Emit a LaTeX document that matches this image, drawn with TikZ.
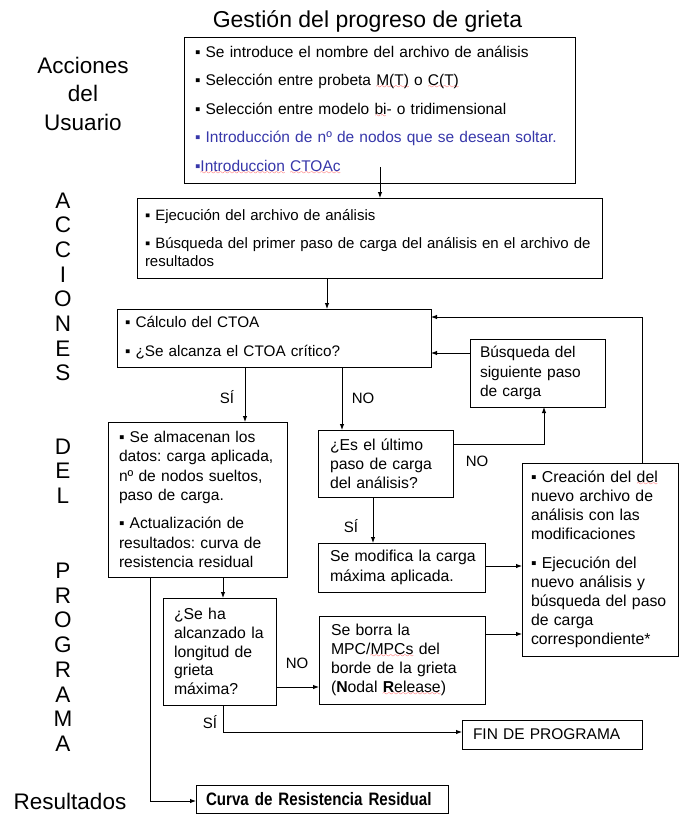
\documentclass[tikz,border=0pt]{standalone}
\usepackage{fontspec}
\setmainfont{Liberation Sans}
\newfontfamily\narrowfont[FakeStretch=0.84]{Liberation Sans}
\usetikzlibrary{arrows.meta}
\definecolor{blu}{RGB}{55,55,170}
\font\squigfont=lasy10 at 7pt
\newcommand\sq[1]{\setbox0\hbox{#1}\rlap{\textcolor{red}{\lower2.6pt\hbox to \wd0{\xleaders\hbox{\squigfont\char58}\hfil}}}\box0\relax}
\frenchspacing
\begin{document}
\begin{tikzpicture}[x=1pt,y=-1pt,
  box/.style={draw, line width=1pt, anchor=north west, align=left, inner ysep=0pt, outer sep=0pt},
  arr/.style={line width=0.9pt, -{Latex[length=6pt,width=4.5pt]}},
  lab/.style={font=\fontsize{15}{18}\selectfont, anchor=base, inner sep=0pt},
  side/.style={font=\fontsize{22.5}{27}\selectfont, anchor=base, inner sep=0pt}]
\useasboundingbox (0,0) rectangle (687,814);
\fill[white] (0,0) rectangle (687,814);

% title and side labels
\node[font=\fontsize{23}{27}\selectfont, anchor=base, inner sep=0pt] (title) at (367.5,27) {Gestión del progreso de grieta};
\node[side] (acc1) at (83,73) {Acciones};
\node[side] (acc2) at (83,101.5) {del};
\node[side] (acc3) at (83,130) {Usuario};
\foreach \ch/\yy [count=\i] in {A/200,C/224.7,C/249.4,I/274.1,O/298.8,N/323.5,E/348.2,S/372.9,
  D/446,E/470.5,L/495,P/570.5,R/595.2,O/619.9,G/644.6,R/669.3,A/694,M/718.7,A/743.4}
  {\node[side] (v\i) at (63,\yy+8) {\ch};}
\node[side] (res) at (70,809) {Resultados};

% boxes
\node[box, minimum width=391pt, minimum height=146pt, text width=369pt, inner xsep=11pt,
  font=\fontsize{15.5}{28.5}\selectfont] (b1) at (184,37)
  {\mbox{▪ Se introduce el nombre del archivo de análisis}\\
   \mbox{▪ Selección entre probeta \sq{M(T)} o \sq{C(T)}}\\
   \mbox{▪ Selección entre modelo \sq{bi}- o tridimensional}\\
   \mbox{\color{blu}▪ Introducción de nº de nodos que se desean soltar.}\\
   \mbox{\color{blu}▪\sq{Introduccion} \sq{CTOAc}}};

\node[box, minimum width=465pt, minimum height=80pt, text width=449pt, inner xsep=8pt,
  font=\fontsize{15}{18}\selectfont] (b2) at (137,198)
  {\mbox{▪ Ejecución del archivo de análisis}\\[10pt]
   \mbox{▪ Búsqueda del primer paso de carga del análisis en el archivo de}\\
   \mbox{resultados}};

\node[box, minimum width=314pt, minimum height=58pt, text width=298pt, inner xsep=8pt,
  font=\fontsize{15.3}{29}\selectfont] (b3) at (117,309)
  {\mbox{▪ Cálculo del CTOA}\\
   \mbox{▪ ¿Se alcanza el CTOA crítico?}};

\node[box, minimum width=135pt, minimum height=68pt, text width=115pt, inner xsep=10pt,
  font=\fontsize{15.5}{19.5}\selectfont] (b9) at (470,339)
  {\mbox{Búsqueda del}\\ \mbox{siguiente paso}\\ \mbox{de carga}};

\node[box, minimum width=179pt, minimum height=155pt, text width=157pt, inner xsep=11pt,
  font=\fontsize{15.6}{19.5}\selectfont] (b4) at (108,422)
  {\mbox{▪ Se almacenan los}\\ \mbox{datos: carga aplicada,}\\ \mbox{nº de nodos sueltos,}\\ \mbox{paso de carga.}\\[8.5pt]
   \mbox{▪ Actualización de}\\ \mbox{resultados: curva de}\\ \mbox{resistencia residual}};

\node[box, minimum width=135pt, minimum height=67pt, text width=111pt, inner xsep=12pt,
  font=\fontsize{15.8}{19}\selectfont] (b5) at (318,430)
  {\mbox{¿Es el último}\\ \mbox{paso de carga}\\ \mbox{del análisis?}};

\node[box, minimum width=167pt, minimum height=49pt, text width=143pt, inner xsep=12pt,
  font=\fontsize{15.8}{20}\selectfont] (b7) at (318,543)
  {\mbox{Se modifica la carga}\\ \mbox{máxima aplicada.}};

\node[box, minimum width=156pt, minimum height=193pt, text width=138pt, inner xsep=9pt,
  font=\fontsize{15.8}{19}\selectfont] (b10) at (522,463)
  {\mbox{▪ Creación del \sq{del}}\\ \mbox{nuevo archivo de}\\ \mbox{análisis con las}\\ \mbox{modificaciones}\\[10pt]
   \mbox{▪ Ejecución del}\\ \mbox{nuevo análisis y}\\ \mbox{búsqueda del paso}\\ \mbox{de carga}\\ \mbox{correspondiente*}};

\node[box, minimum width=113pt, minimum height=107pt, text width=91pt, inner xsep=11pt,
  font=\fontsize{15.8}{18.75}\selectfont] (b6) at (163,598)
  {\mbox{¿Se ha}\\ \mbox{alcanzado la}\\ \mbox{longitud de}\\ \mbox{grieta}\\ \mbox{máxima?}};

\node[box, minimum width=166pt, minimum height=88pt, text width=142pt, inner xsep=12pt,
  font=\fontsize{15.8}{19}\selectfont] (b8) at (319,616)
  {\mbox{Se borra la}\\ \mbox{MPC/\sq{MPCs} del}\\ \mbox{borde de la grieta}\\ \mbox{(\textbf{N}odal \sq{\textbf{R}elease})}};

\node[box, minimum width=180pt, minimum height=29pt, text width=158pt, inner xsep=11pt,
  font=\fontsize{15.5}{18}\selectfont] (fin) at (462,720) {FIN DE PROGRAMA};

\node[box, minimum width=252pt, minimum height=28pt, text width=232pt, inner xsep=10pt,
  font=\narrowfont\bfseries\fontsize{18}{20}\selectfont] (curva) at (196,785) {Curva de Resistencia Residual};

% helper coordinates
\coordinate (s1) at (380,167);
\coordinate (k327) at (327,0);
\coordinate (k245) at (245,0);
\coordinate (k342) at (342,0);
\coordinate (k544) at (544,0);
\coordinate (k373) at (373,0);
\coordinate (k642) at (642,0);
\coordinate (k223) at (223,0);
\coordinate (k150) at (150,0);
\coordinate (h353) at (0,353);
\coordinate (h444) at (0,444);
\coordinate (h566) at (0,566);
\coordinate (h634) at (0,634);
\coordinate (h317) at (0,317);
\coordinate (h687) at (0,687);
\coordinate (h732) at (0,732);
\coordinate (h801) at (0,801);

% connectors
\draw[arr] (s1) -- (s1 |- b2.north);
\draw[arr] (b2.south -| k327) -- (b3.north -| k327);
\draw[arr] (b3.south -| k245) -- (b4.north -| k245);
\draw[arr] (b3.south -| k342) -- (b5.north -| k342);
\draw[arr] (b9.west |- h353) -- (b3.east |- h353);
\draw[arr] (b5.east |- h444) -| (b9.south -| k544);
\draw[arr] (b5.south -| k373) -- (b7.north -| k373);
\draw[arr] (b7.east |- h566) -- (b10.west |- h566);
\draw[arr] (b8.east |- h634) -- (b10.west |- h634);
\draw[arr] (b10.north -| k642) |- (b3.east |- h317);
\draw[arr] (b4.south -| k223) -- (b6.north -| k223);
\draw[arr] (b6.east |- h687) -- (b8.west |- h687);
\draw[arr] (b6.south -| k223) |- (fin.west |- h732);
\draw[arr] (b4.south -| k150) |- (curva.west |- h801);

% connector labels
\node[lab] (l1) at (227,403.5) {SÍ};
\node[lab] (l2) at (363,403.5) {NO};
\node[lab] (l3) at (477,466.5) {NO};
\node[lab] (l4) at (351,532.5) {SÍ};
\node[lab] (l5) at (297,668.5) {NO};
\node[lab] (l6) at (210,728.5) {SÍ};
\end{tikzpicture}
\end{document}
